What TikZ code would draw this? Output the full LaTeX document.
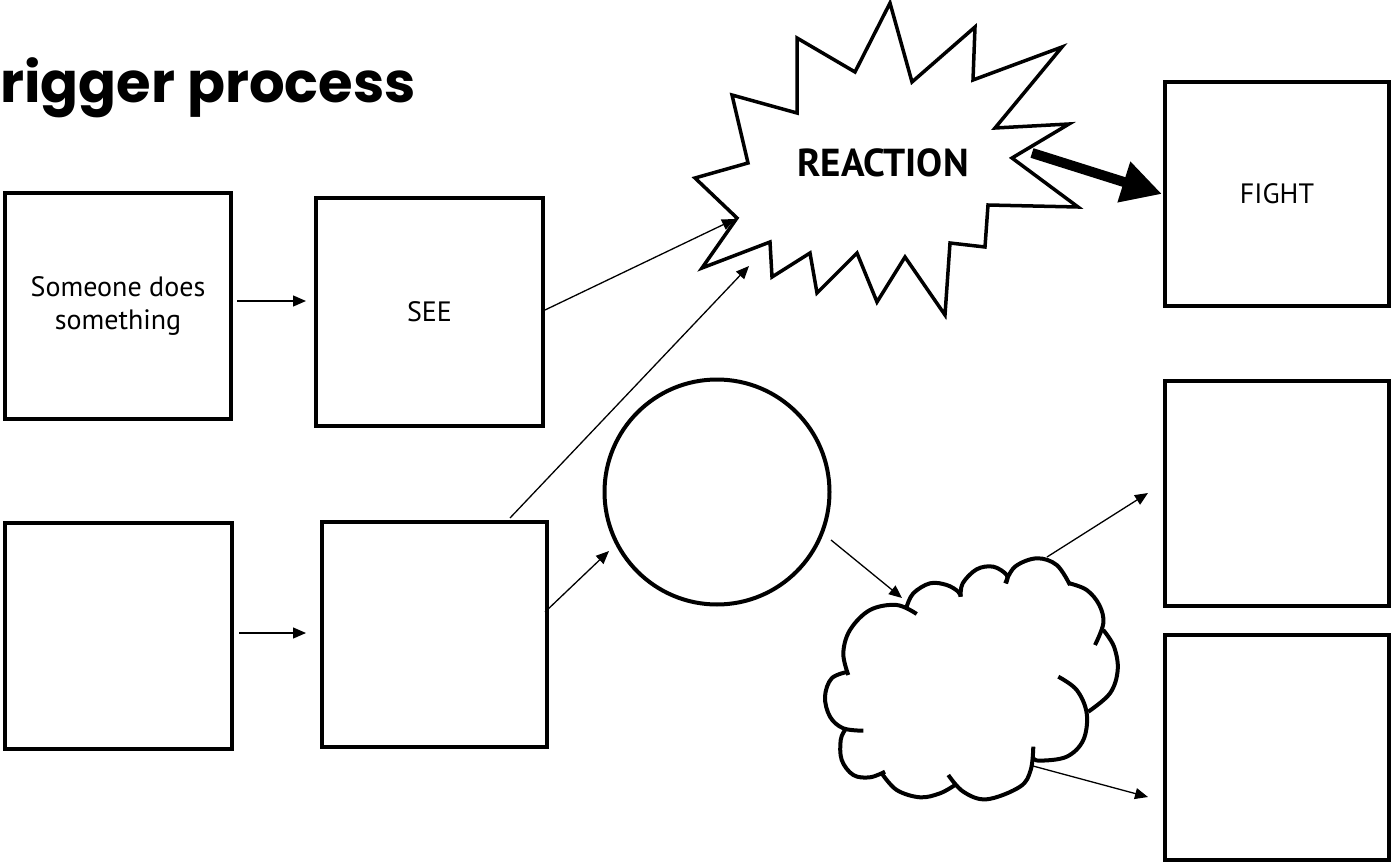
\documentclass[tikz,border=0pt]{standalone}
\usepackage{fontspec}
\setmainfont{PT Sans}
\newfontfamily\titlefont{Poppins}
\usetikzlibrary{arrows.meta}
\begin{document}
\begin{tikzpicture}[x=1pt,y=-1pt,
  box/.style={draw, line width=4pt, rectangle, inner sep=0pt, align=center,
    font=\fontsize{28}{33}\selectfont},
  arr/.style={line width=1.3pt, -{Triangle[length=13pt,width=11pt]}},
  fat/.style={line width=10pt, -{Triangle[length=40pt,width=40pt]}},
  burst/.style={line width=3.5pt, line join=miter},
  bump/.style={line width=4pt, line cap=butt}
]
\useasboundingbox (0,0) rectangle (1393,864);

% title
\node[anchor=base west, inner sep=0pt,
  font=\titlefont\bfseries\fontsize{56}{60}\selectfont] (title) at (0,103) {rigger process};

% boxes
\node[box, minimum width=226pt, minimum height=226pt] (b1) at (118,306) {Someone does\\something};
\node[box, minimum width=227pt, minimum height=228pt] (see) at (429.5,312) {SEE};
\node[box, minimum width=227pt, minimum height=226pt] (ba) at (118.5,636) {};
\node[box, minimum width=225pt, minimum height=225pt] (bb) at (434.5,634.5) {};
\node[box, minimum width=224pt, minimum height=224pt] (fight) at (1277,194) {FIGHT};
\node[box, minimum width=224pt, minimum height=225pt] (r2) at (1277,493.5) {};
\node[box, minimum width=224pt, minimum height=225pt] (r3) at (1277,747.5) {};

% circle
\node[circle, draw, line width=4pt, minimum size=225pt, inner sep=0pt] (circ) at (717,492) {};

% starburst
\draw[burst] (890,3) -- (912,82) -- (975,27) -- (973,80) -- (1062,47) -- (995,128)
  -- (1069,124) -- (1012,158) -- (1078,207) -- (988,205) -- (985,247) -- (950,243)
  -- (945,315) -- (905,257) -- (877,302) -- (857,253) -- (817,293) -- (810,253)
  -- (772,277) -- (770,242) -- (702,268) -- (737,218) -- (695,178) -- (748,163)
  -- (732,95) -- (797,113) -- (797,38) -- (855,72) -- cycle;
\node[font=\bfseries\fontsize{39}{42}\selectfont, inner sep=0pt] (reaction) at (883,163) {REACTION};

% cloud
\coordinate (cloud) at (970,680);
\draw[bump] plot[smooth, tension=0.6] coordinates {(916.7,614) (896.7,605) (870,610) (850,630) (843.3,653.3) (848.3,675)};
\draw[bump] plot[smooth, tension=0.6] coordinates {(906.7,606.7) (913.3,593.3) (930,583.3) (946.7,585) (958.3,591.7) (960.7,596.7)};
\draw[bump] plot[smooth, tension=0.6] coordinates {(960.7,596.7) (962.7,583.3) (976.7,569.3) (993.3,566.7) (1006.7,575) (1006,583.3)};
\draw[bump] plot[smooth, tension=0.6] coordinates {(1005.3,583.3) (1015,566.7) (1036.7,558.3) (1056.7,565) (1070,585)};
\draw[bump] plot[smooth, tension=0.6] coordinates {(1069.3,583.3) (1086.7,590) (1099.3,605) (1103.3,623.3) (1095,645)};
\draw[bump] plot[smooth, tension=0.6] coordinates {(1103.3,630) (1114,646.7) (1117.7,670) (1110,693.3) (1088.3,711.7)};
\draw[bump] plot[smooth, tension=0.6] coordinates {(1058.3,676.7) (1076.7,690) (1086.7,713.3) (1083.3,740) (1066.7,756.7) (1040,760.7) (1033.3,758.3)};
\draw[bump] plot[smooth, tension=0.6] coordinates {(1033.3,746.7) (1030.7,770) (1020,786.7) (986.7,799.3) (963.3,791.7) (948.3,775)};
\draw[bump] plot[smooth, tension=0.6] coordinates {(955,785) (940,793.3) (920,797.3) (896.7,790) (881.7,773.3)};
\draw[bump] plot[smooth, tension=0.6] coordinates {(885,771.7) (870,777.3) (853.3,775) (841.7,760) (840.7,740) (845,730)};
\draw[bump] plot[smooth, tension=0.6] coordinates {(863.3,730.7) (843.3,728.3) (830,716.7) (825,696.7) (831.7,678.3) (848.3,671.7)};

% connector end points
\coordinate (p1s) at (237,301);   \coordinate (p1e) at (306,301);
\coordinate (p2s) at (545,310);   \coordinate (p2e) at (735,219);
\coordinate (p3s) at (510,518);   \coordinate (p3e) at (749,266);
\coordinate (p4s) at (239,633);   \coordinate (p4e) at (306,633);
\coordinate (p5s) at (545,612);   \coordinate (p5e) at (609,551);
\coordinate (p6s) at (831,540);   \coordinate (p6e) at (902,598);
\coordinate (p7s) at (1047,557);  \coordinate (p7e) at (1148,493);
\coordinate (p8s) at (1033,766);  \coordinate (p8e) at (1148,797);
\coordinate (p9s) at (1032,153);  \coordinate (p9e) at (1162,194);

\draw[arr] (p1s) -- (p1e);
\draw[arr] (p2s) -- (p2e);
\draw[arr] (p3s) -- (p3e);
\draw[arr] (p4s) -- (p4e);
\draw[arr] (p5s) -- (p5e);
\draw[arr] (p6s) -- (p6e);
\draw[arr] (p7s) -- (p7e);
\draw[arr] (p8s) -- (p8e);
\draw[fat] (p9s) -- (p9e);
\end{tikzpicture}
\end{document}
